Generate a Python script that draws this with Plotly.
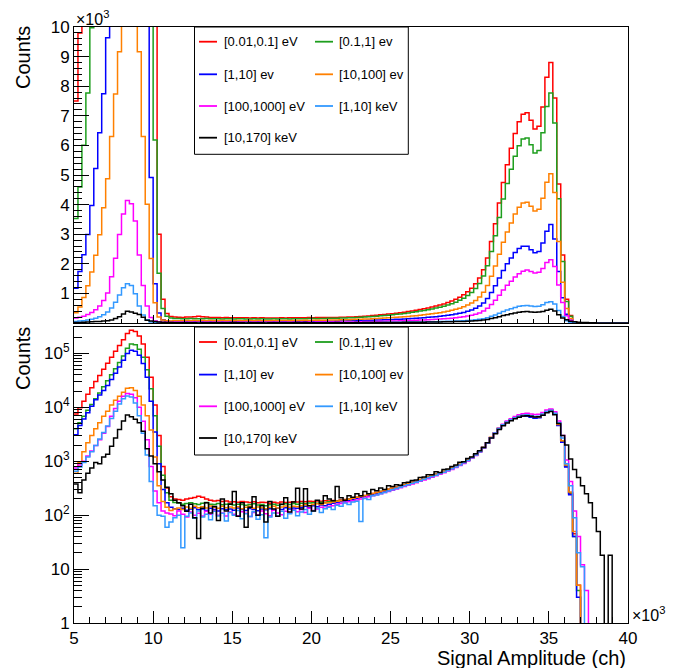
import numpy as np
import plotly.graph_objects as go

# histogram binning (channels)
bin_lo = 5000
bin_hi = 40000
bin_width = 250

labels = ['[0.01,0.1] eV', '[0.1,1] ev', '[1,10] ev', '[10,100] ev',
          '[100,1000] eV', '[1,10] keV', '[10,170] keV']
colors = ['#ff0000', '#1e9e1e', '#0000ff', '#ff8000',
          '#ff00ff', '#3399ff', '#000000']

# lower pad = normalized spectra, upper pad = raw counts (norm * scale)
top_scale = [1.0, 0.883, 0.378, 0.573, 0.23, 0.082, 0.055]

# normalized counts per 250 ch bin, one row = 2000 ch
red_norm = [
    7500, 9800, 13000, 17500, 23000, 30000, 39000, 51000,
    66000, 85000, 110000, 140000, 180000, 235000, 270000, 255000,
    210000, 150000, 85000, 36000, 11000, 3000, 800, 320,
    220, 200, 195, 190, 200, 205, 212, 225,
    215, 200, 190, 184, 188, 180, 184, 176,
    178, 174, 180, 175, 171, 177, 170, 174,
    171, 167, 173, 169, 175, 171, 174, 178,
    176, 180, 178, 182, 180, 184, 182, 186,
    184, 188, 186, 192, 196, 200, 206, 214,
    222, 232, 240, 252, 262, 275, 288, 302,
    316, 332, 350, 366, 388, 408, 432, 455,
    482, 510, 540, 572, 606, 646, 692, 742,
    802, 872, 952, 1052, 1172, 1322, 1520, 1800,
    2200, 2750, 3350, 4050, 4750, 5350, 5900, 6400,
    6800, 7050, 7100, 6850, 6550, 6650, 7300, 8300,
    8800, 7600, 4700, 2300, 800, 250, 45, 5,
    0, 0, 0, 0, 0, 0, 0, 0,
    0, 0, 0, 0,
]
green_norm = [
    4000, 5200, 6800, 8800, 11300, 14500, 18500, 24000,
    31000, 40000, 52000, 68000, 90000, 125000, 150000, 145000,
    120000, 85000, 50000, 22000, 7000, 1900, 550, 260,
    190, 172, 168, 160, 165, 170, 162, 158,
    166, 172, 160, 158, 164, 156, 160, 162,
    155, 160, 158, 152, 157, 162, 154, 158,
    150, 156, 160, 153, 158, 162, 157, 164,
    160, 166, 162, 168, 170, 166, 174, 172,
    178, 180, 184, 188, 192, 198, 204, 210,
    220, 228, 240, 250, 260, 274, 286, 300,
    314, 330, 348, 368, 386, 408, 428, 456,
    478, 508, 536, 572, 604, 644, 690, 738,
    798, 870, 948, 1048, 1168, 1320, 1516, 1796,
    2190, 2740, 3340, 4040, 4740, 5340, 5880, 6380,
    6780, 7040, 7080, 6820, 6500, 6600, 7280, 8280,
    8800, 7650, 4750, 2350, 820, 260, 40, 4,
    0, 0, 0, 0, 0, 0, 0, 0,
    0, 0, 0, 0,
]
blue_norm = [
    3100, 4600, 6100, 7900, 10500, 13800, 17000, 20500,
    25500, 33000, 43000, 56000, 75000, 100000, 115000, 110000,
    92000, 65000, 36000, 13000, 3500, 900, 300, 170,
    140, 132, 128, 135, 124, 130, 138, 126,
    130, 122, 134, 128, 120, 132, 126, 130,
    124, 136, 128, 122, 133, 127, 121, 130,
    126, 132, 124, 134, 128, 138, 130, 136,
    134, 140, 146, 138, 150, 144, 154, 150,
    160, 166, 172, 178, 184, 190, 198, 206,
    214, 224, 236, 246, 258, 270, 282, 296,
    312, 328, 344, 362, 382, 404, 426, 450,
    476, 504, 532, 566, 600, 640, 686, 736,
    796, 864, 944, 1044, 1164, 1316, 1512, 1790,
    2180, 2730, 3320, 4020, 4700, 5300, 5820, 6300,
    6650, 6850, 6850, 6550, 6270, 6400, 7150, 8200,
    8800, 7500, 4600, 2250, 780, 240, 40, 3,
    0, 0, 0, 0, 0, 0, 0, 0,
    0, 0, 0, 0,
]
orange_norm = [
    600, 950, 1500, 2200, 3000, 4000, 5200, 6800,
    8500, 11000, 13500, 16000, 19000, 22500, 23000, 20500,
    16000, 11000, 7000, 3800, 1200, 350, 180, 140,
    122, 130, 136, 128, 142, 134, 146, 138,
    144, 136, 148, 140, 134, 146, 138, 142,
    136, 144, 132, 140, 146, 134, 142, 138,
    132, 140, 146, 136, 142, 148, 140, 146,
    144, 150, 156, 150, 158, 162, 158, 168,
    170, 176, 182, 186, 194, 198, 206, 214,
    222, 230, 242, 252, 262, 276, 288, 304,
    318, 334, 352, 370, 390, 410, 434, 458,
    484, 512, 542, 574, 610, 650, 696, 746,
    806, 876, 956, 1056, 1176, 1326, 1526, 1806,
    2210, 2760, 3360, 4060, 4760, 5360, 5900, 6420,
    6820, 7080, 7120, 6880, 6600, 6700, 7350, 8300,
    8800, 7700, 4800, 2400, 850, 270, 50, 5,
    0, 0, 0, 0, 0, 0, 0, 0,
    0, 0, 0, 0,
]
magenta_norm = [
    750, 850, 1000, 1250, 1550, 1950, 2500, 3300,
    4400, 6800, 9500, 13000, 16000, 18000, 17500, 15000,
    10000, 5500, 2500, 800, 280, 170, 120, 110,
    105, 98, 120, 104, 92, 115, 100, 108,
    96, 118, 104, 122, 100, 110, 96, 114,
    104, 98, 116, 108, 94, 112, 102, 120,
    106, 98, 124, 110, 102, 118, 108, 126,
    116, 128, 112, 134, 122, 130, 140, 134,
    146, 150, 160, 164, 172, 178, 186, 192,
    200, 208, 220, 228, 238, 250, 262, 276,
    290, 306, 322, 340, 358, 378, 400, 424,
    450, 476, 506, 538, 572, 612, 656, 706,
    764, 832, 912, 1012, 1132, 1282, 1480, 1760,
    2160, 2720, 3340, 4080, 4850, 5550, 6150, 6750,
    7250, 7600, 7800, 7550, 7350, 7450, 8000, 8900,
    9300, 8300, 5600, 3000, 1050, 420, 120, 40,
    12, 4, 0, 0, 0, 0, 0, 0,
    0, 0, 0, 0,
]
lightblue_norm = [
    650, 780, 950, 1200, 1500, 1950, 2600, 3400,
    4500, 6200, 8500, 11500, 14500, 16200, 15500, 12000,
    7000, 3300, 1300, 420, 150, 100, 95, 60,
    75, 90, 100, 25, 95, 110, 88, 120,
    92, 104, 82, 118, 96, 108, 78, 112,
    100, 122, 86, 106, 94, 116, 84, 102,
    38, 92, 110, 96, 118, 88, 106, 124,
    98, 114, 128, 104, 120, 136, 112, 132,
    140, 128, 152, 146, 168, 158, 176, 182,
    76, 204, 196, 228, 236, 250, 262, 282,
    296, 312, 328, 350, 366, 390, 410, 436,
    462, 492, 520, 552, 590, 628, 676, 726,
    786, 856, 936, 1036, 1156, 1306, 1506, 1786,
    2180, 2730, 3330, 4030, 4730, 5330, 5880, 6380,
    6850, 7150, 7250, 7000, 6750, 6850, 7500, 8400,
    8800, 7800, 5200, 2700, 900, 350, 90, 20,
    11, 0, 0, 0, 0, 0, 0, 0,
    0, 0, 0, 0,
]
black_norm = [
    380, 260, 450, 600, 750, 950, 900, 1200,
    1350, 1900, 2700, 3900, 5600, 7200, 6700, 6000,
    5200, 3600, 1700, 1250, 900, 640, 450, 330,
    250, 190, 170, 150, 118, 160, 90, 37,
    135, 170, 110, 145, 80, 200, 120, 160,
    275, 95, 170, 60, 140, 220, 100, 150,
    75, 180, 130, 95, 160, 210, 115, 175,
    316, 130, 310, 150, 120, 190, 165, 230,
    200, 185, 340, 210, 190, 230, 215, 250,
    230, 275, 250, 300, 285, 320, 300, 350,
    340, 365, 360, 400, 410, 440, 450, 500,
    510, 560, 560, 640, 620, 700, 720, 800,
    850, 960, 980, 1120, 1200, 1380, 1560, 1800,
    2200, 2700, 3250, 3900, 4550, 5100, 5650, 6150,
    6550, 6900, 7000, 6800, 6600, 6700, 7100, 7900,
    8400, 7300, 5000, 3000, 2000, 1100, 700, 500,
    350, 250, 170, 90, 50, 18, 0, 18,
    0, 0, 0, 0,
]

series_norm = [red_norm, green_norm, blue_norm, orange_norm,
               magenta_norm, lightblue_norm, black_norm]

FONT = 'Liberation Sans, Arial, Helvetica, sans-serif'

# pixel geometry of the frame (682x668 canvas)
L, R, T, B = 74, 628, 27, 623
W, H = R - L, B - T


def px_x(px):
    return (px - L) / W


def px_y(py):
    return (B - py) / H


edges = np.arange(bin_lo, bin_hi + bin_width, bin_width)

fig = go.Figure()

for vals, scale, col, lab in zip(series_norm, top_scale, colors, labels):
    v = np.array(vals, dtype=float)
    # upper pad: raw counts
    top_y = np.append(v * scale, v[-1] * scale)
    fig.add_trace(go.Scatter(
        x=edges, y=top_y, mode='lines', line_shape='hv',
        line=dict(color=col, width=1.5), name=lab,
        xaxis='x', yaxis='y', showlegend=False, hoverinfo='skip'
    ))
    # lower pad: normalized, empty bins sit on the frame like in ROOT
    low = np.maximum(v, 0.9)
    low_y = np.append(low, low[-1])
    fig.add_trace(go.Scatter(
        x=edges, y=low_y, mode='lines', line_shape='hv',
        line=dict(color=col, width=1.5), name=lab,
        xaxis='x2', yaxis='y2', showlegend=False, hoverinfo='skip'
    ))

x_ticks = list(range(5000, 40001, 5000))
x_text = [str(t // 1000) for t in x_ticks]
ytop_ticks = list(range(1000, 10001, 1000))
ytop_text = [str(t // 1000) for t in ytop_ticks]
ylog_ticks = [1, 10, 100, 1000, 10000, 100000]
ylog_text = ['1', '10', '10<sup>2</sup>', '10<sup>3</sup>',
             '10<sup>4</sup>', '10<sup>5</sup>']

tick_font = dict(family=FONT, size=17, color='black')
axis_common = dict(showline=True, mirror=True, linecolor='black', linewidth=1,
                   showgrid=False, zeroline=False, ticks='inside',
                   tickcolor='black', tickfont=tick_font)

top_dom = [px_y(323), 1.0]
low_dom = [0.0, px_y(327)]

fig.update_layout(
    width=682, height=668,
    margin=dict(l=L, r=682 - R, t=T, b=668 - B),
    paper_bgcolor='white', plot_bgcolor='white',
    showlegend=False,
    font=dict(family=FONT, color='black'),
    xaxis=dict(domain=[0, 1], anchor='y', range=[bin_lo, bin_hi],
               tickvals=x_ticks, ticklen=8, showticklabels=False,
               minor=dict(ticks='inside', ticklen=4.5, dtick=1000, tickcolor='black'),
               **axis_common),
    xaxis2=dict(domain=[0, 1], anchor='y2', range=[bin_lo, bin_hi], matches='x',
                tickvals=x_ticks, ticktext=x_text, ticklen=12,
                minor=dict(ticks='inside', ticklen=6, dtick=1000, tickcolor='black'),
                **axis_common),
    yaxis=dict(domain=top_dom, anchor='x', range=[0, 10000],
               tickvals=ytop_ticks, ticktext=ytop_text, ticklen=15,
               minor=dict(ticks='inside', ticklen=7.5, dtick=200, tick0=0,
                          tickcolor='black'),
               **axis_common),
    yaxis2=dict(domain=low_dom, anchor='x2', type='log', range=[0, 5.49],
                tickvals=ylog_ticks, ticktext=ylog_text, ticklen=15,
                minor=dict(ticks='inside', ticklen=7.5, dtick='D1',
                           tickcolor='black'),
                **axis_common),
)

annots = []
shapes = []

# axis titles and exponent markers
annots.append(dict(text='Counts', x=px_x(23), y=px_y(58), xref='paper', yref='paper',
                   textangle=-90, showarrow=False, xanchor='center', yanchor='middle',
                   font=dict(family=FONT, size=20, color='black')))
annots.append(dict(text='Counts', x=px_x(23), y=px_y(359), xref='paper', yref='paper',
                   textangle=-90, showarrow=False, xanchor='center', yanchor='middle',
                   font=dict(family=FONT, size=20, color='black')))
annots.append(dict(text='Signal Amplitude (ch)', x=1, y=px_y(658), xref='paper',
                   yref='paper', showarrow=False, xanchor='right', yanchor='middle',
                   font=dict(family=FONT, size=20, color='black')))
annots.append(dict(text='×10<sup>3</sup>', x=0, y=1, xref='paper', yref='paper',
                   showarrow=False, xanchor='left', yanchor='bottom', yshift=-3,
                   font=dict(family=FONT, size=16, color='black')))
annots.append(dict(text='×10<sup>3</sup>', x=1, y=0, xref='paper', yref='paper',
                   showarrow=False, xanchor='left', yanchor='bottom', xshift=2, yshift=-3,
                   font=dict(family=FONT, size=16, color='black')))

# legend boxes (ROOT TLegend, 2 columns) in both pads
col_line = [(199, 217), (315, 333)]
col_text = [222, 337]
rows_top = [41.7, 74.3, 106, 137.7]
slots = [(0, 0), (0, 1), (1, 0), (1, 1), (2, 0), (2, 1), (3, 0)]
for box_top, box_bot, dy in [(27, 154.3, 0), (327, 455, 300.3)]:
    shapes.append(dict(type='rect', xref='paper', yref='paper',
                       x0=px_x(194.5), x1=px_x(408.3), y0=px_y(box_bot), y1=px_y(box_top),
                       line=dict(color='black', width=1), fillcolor='white', layer='above'))
    for (r, c), col, lab in zip(slots, colors, labels):
        yy = px_y(rows_top[r] + dy)
        shapes.append(dict(type='line', xref='paper', yref='paper',
                           x0=px_x(col_line[c][0]), x1=px_x(col_line[c][1]), y0=yy, y1=yy,
                           line=dict(color=col, width=1.8), layer='above'))
        annots.append(dict(text=lab, x=px_x(col_text[c]), y=yy, xref='paper', yref='paper',
                           showarrow=False, xanchor='left', yanchor='middle',
                           font=dict(family=FONT, size=13, color='black')))

fig.update_layout(annotations=annots, shapes=shapes)

# drop the default 8px page margin so the canvas sits at the window origin
fig.write_html("out.html", config={'displayModeBar': False},
               post_script="document.body.style.margin='0px';")
